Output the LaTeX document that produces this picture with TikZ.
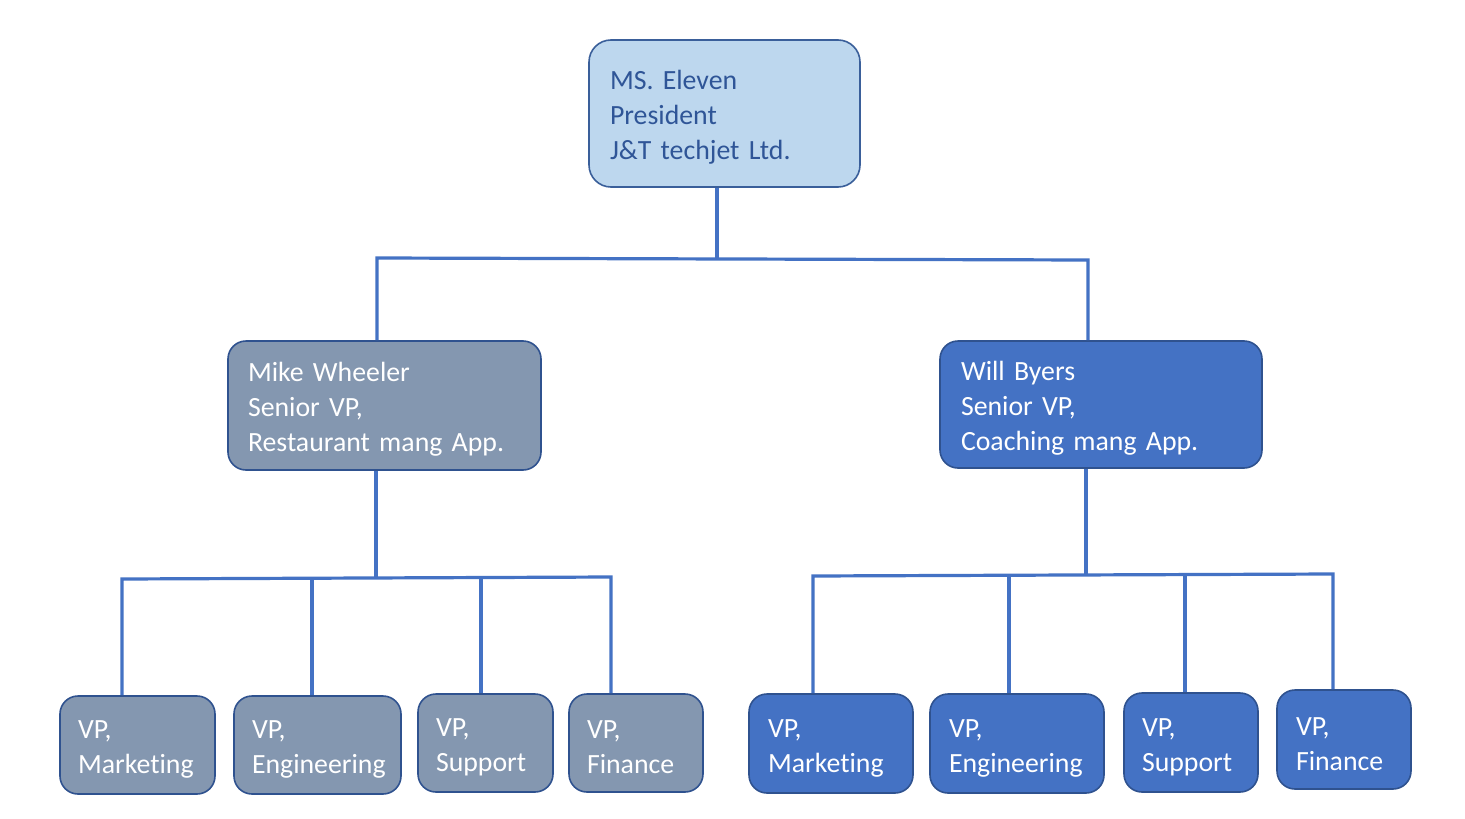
\documentclass[tikz,border=0pt]{standalone}
\usepackage{fontspec}
\setmainfont[Ligatures=NoCommon]{Carlito}
\frenchspacing
\definecolor{topfill}{HTML}{BDD7EE}
\definecolor{topedge}{HTML}{3A5F9A}
\definecolor{toptext}{HTML}{2F5597}
\definecolor{grayfill}{HTML}{8497B0}
\definecolor{bluefill}{HTML}{4472C4}
\definecolor{boxedge}{HTML}{2F528F}
\definecolor{wire}{HTML}{4472C4}
\tikzset{
  obox/.style={rectangle, rounded corners=#1, draw=boxedge, line width=1.6pt, align=left, inner xsep=0pt, inner ysep=0pt, font=\fontsize{27.8}{35}\selectfont},
  topbox/.style={obox=22pt, fill=topfill, draw=topedge, text=toptext},
  graybox/.style={obox=18pt, fill=grayfill, text=white},
  bluebox/.style={obox=18pt, fill=bluefill, text=white},
  wirel/.style={draw=wire, line width=3.2pt}
}
% place a box by corners: name, style, x1, y1, x2, y2, text inset, text
\newcommand{\orgbox}[8]{%
  \node[#2, minimum width=#5pt-#3pt, minimum height=#6pt-#4pt, text width=#5pt-#3pt-2*#7pt] (#1) at ({(#3+#5)/2},{(#4+#6)/2}) {\rule{0pt}{27pt}#8};}
\begin{document}
\begin{tikzpicture}[x=1pt,y=-1pt]
\useasboundingbox[fill=white] (0,0) rectangle (1465,819);
\coordinate (b0) at (717,258);
\coordinate (bl) at (377,258);
\coordinate (br) at (1088,260);
\coordinate (ml) at (376,578);
\coordinate (wl) at (1086,576);
\orgbox{top}{topbox}{589}{40}{860}{187}{21}{MS. Eleven\\President\\J\&T techjet Ltd.}
\orgbox{mike}{graybox}{228}{341}{541}{470}{20}{Mike Wheeler\\Senior VP,\\Restaurant mang App.}
\orgbox{will}{bluebox}{940}{341}{1262}{468}{21}{Will Byers\\Senior VP,\\Coaching mang App.}
\orgbox{g1}{graybox}{60}{696}{215}{794}{18}{VP,\\Marketing}
\orgbox{g2}{graybox}{234}{696}{401}{794}{18}{VP,\\Engineering}
\orgbox{g3}{graybox}{418}{694}{553}{792}{18}{VP,\\Support}
\orgbox{g4}{graybox}{569}{694}{703}{792}{18}{VP,\\Finance}
\orgbox{b1}{bluebox}{749}{694}{913}{793}{19}{VP,\\Marketing}
\orgbox{b2}{bluebox}{930}{694}{1104}{793}{19}{VP,\\Engineering}
\orgbox{b3}{bluebox}{1124}{693}{1258}{792}{18}{VP,\\Support}
\orgbox{b4}{bluebox}{1277}{690}{1411}{789}{19}{VP,\\Finance}
\draw[wirel] (717,0 |- top.south) -- (b0);
\draw[wirel] (377,0 |- mike.north) -- (bl) -- (br) -- (1088,0 |- will.north);
\draw[wirel] (376,0 |- mike.south) -- (ml);
\draw[wirel] (122,0 |- g1.north) -- (122,579) -- (611,577) -- (611,0 |- g4.north);
\draw[wirel] (312,0 |- g2.north) -- (312,578);
\draw[wirel] (481,0 |- g3.north) -- (481,577);
\draw[wirel] (1086,0 |- will.south) -- (wl);
\draw[wirel] (813,0 |- b1.north) -- (813,576) -- (1333,574) -- (1333,0 |- b4.north);
\draw[wirel] (1009,0 |- b2.north) -- (1009,576);
\draw[wirel] (1185,0 |- b3.north) -- (1185,575);
\end{tikzpicture}
\end{document}
